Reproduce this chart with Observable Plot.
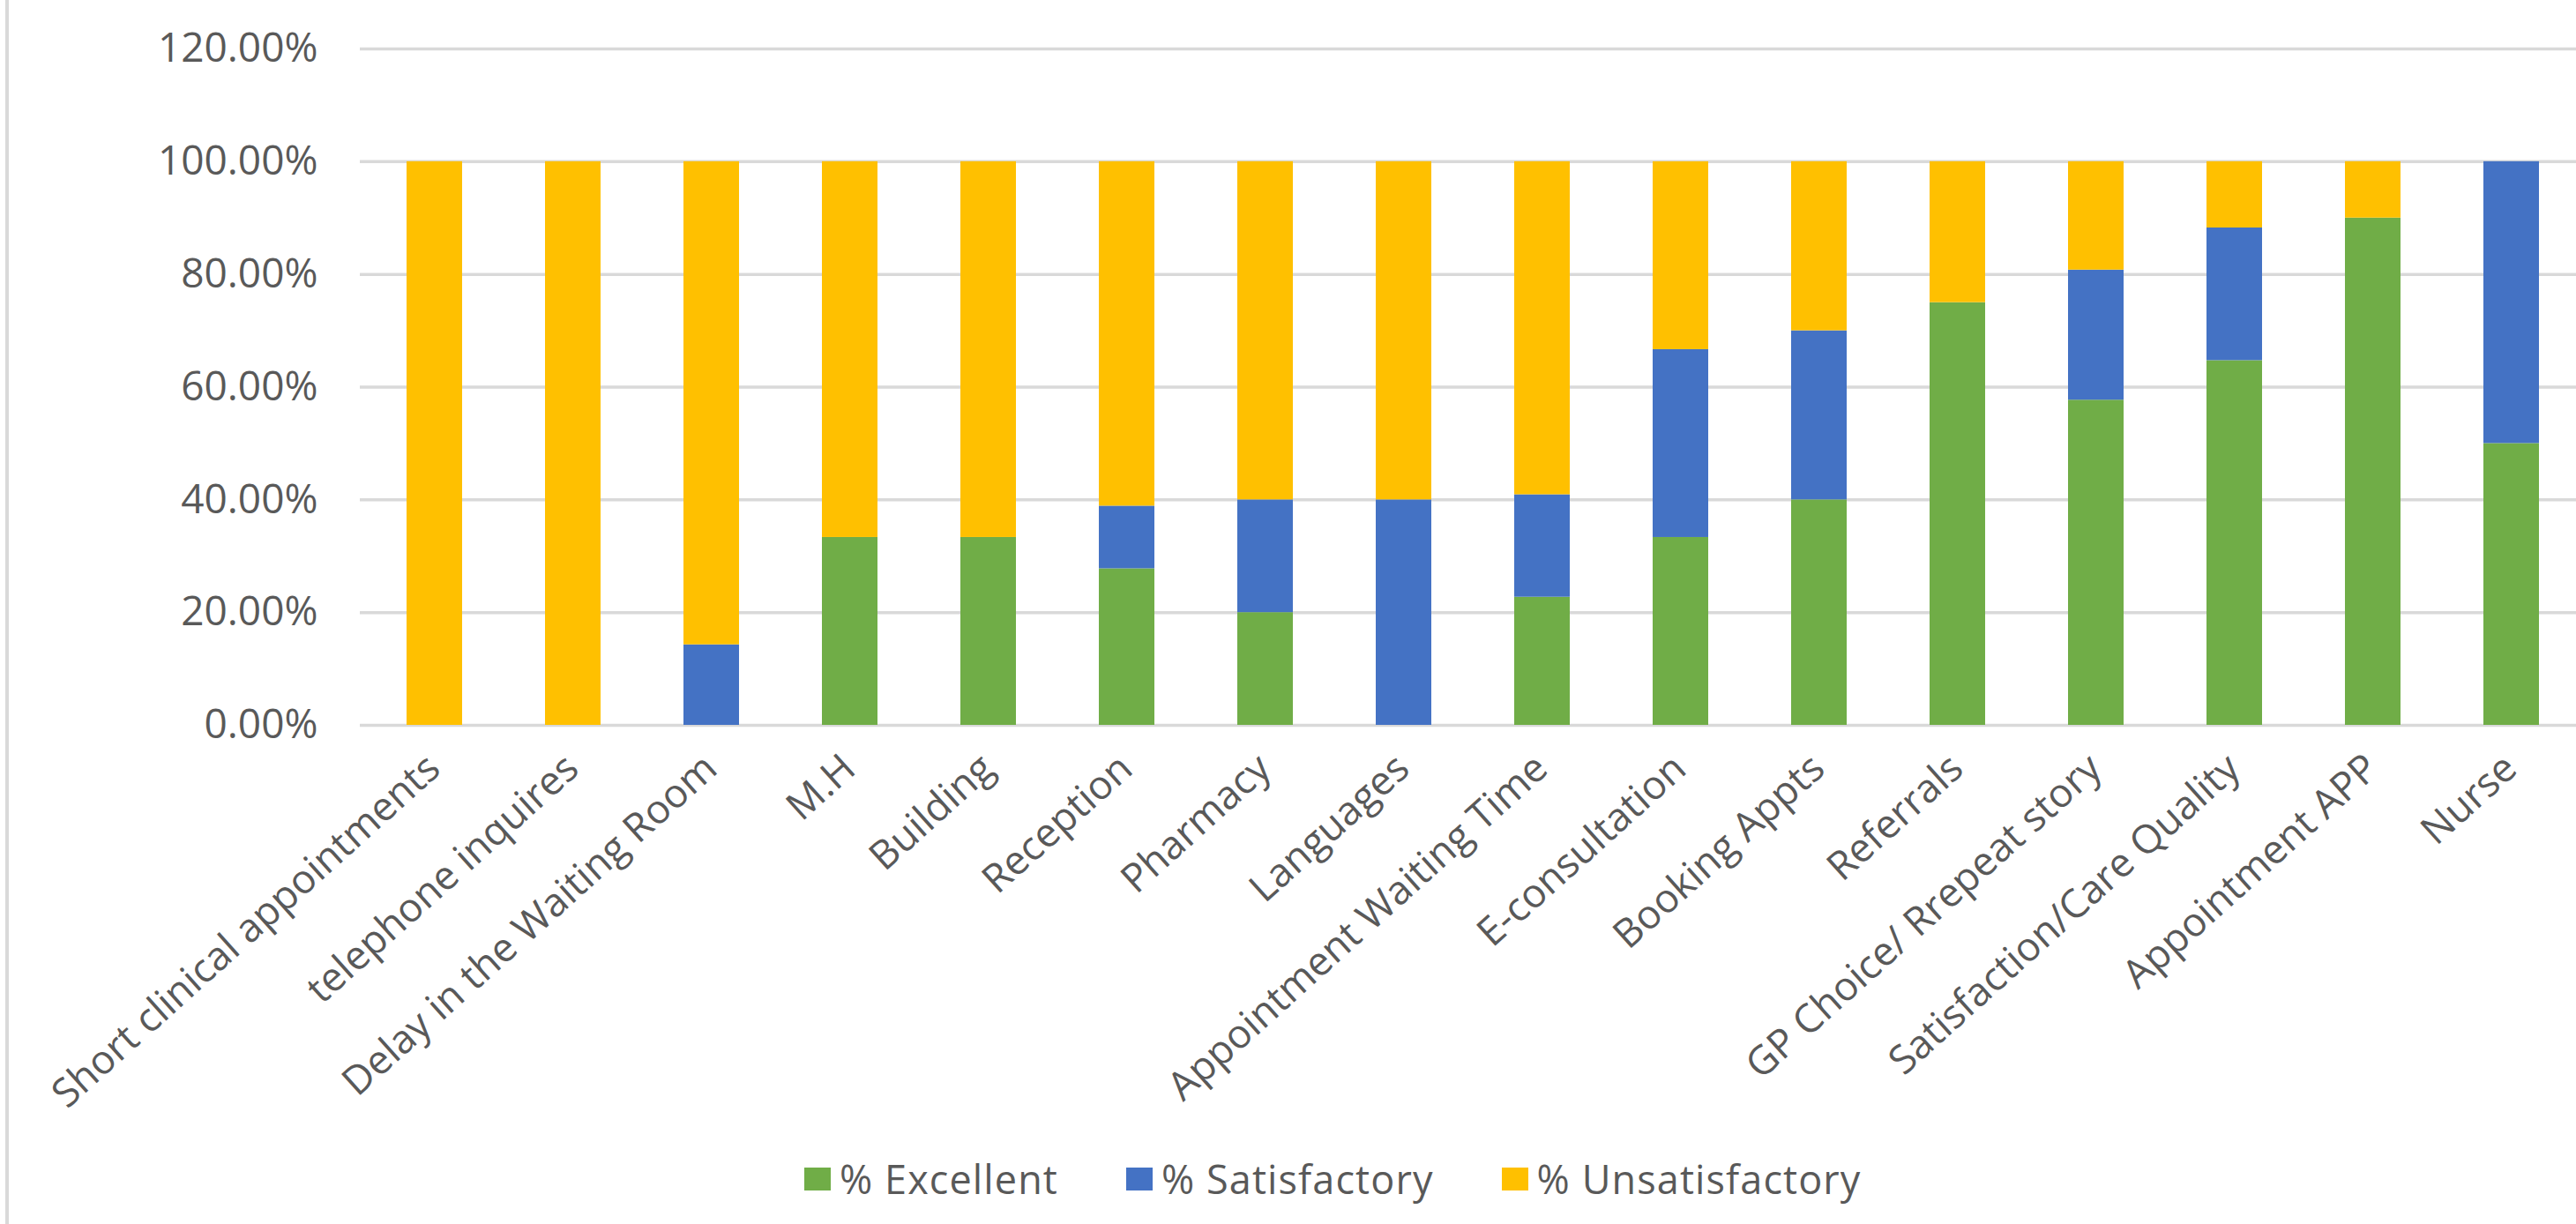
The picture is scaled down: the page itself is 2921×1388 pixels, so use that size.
<!DOCTYPE html>
<html><head><meta charset="utf-8">
<script src="https://cdn.jsdelivr.net/npm/d3@7"></script>
<script src="https://cdn.jsdelivr.net/npm/@observablehq/plot@0.6"></script>
<style>
html,body{margin:0;padding:0;background:#fff;}
#wrap{position:relative;width:2921px;height:1388px;overflow:hidden;background:#fff;}
#border{position:absolute;left:6px;top:0;width:4px;height:1388px;background:#d9d9d9;}
#chart{position:absolute;left:0;top:0;}
#legend{position:absolute;left:912px;top:1306px;}
#legend .lg-swatch{margin-right:77px !important;}
#legend .lg-swatch > svg{margin-right:10px !important;}
#legend .lg-swatches{margin:0 !important;letter-spacing:1.1px;}
</style></head><body>
<div id="wrap"><div id="border"></div><div id="chart"></div><div id="legend"></div></div>
<script>
const categories = ["Short clinical appointments","telephone inquires","Delay in the Waiting Room","M.H","Building","Reception","Pharmacy","Languages","Appointment Waiting Time","E-consultation","Booking Appts","Referrals","GP Choice/ Rrepeat story","Satisfaction/Care Quality","Appointment APP","Nurse"];
const series = ["% Excellent","% Satisfactory","% Unsatisfactory"];
const excellent      = [0, 0, 0,     33.33, 33.33, 27.78, 20, 0,  22.73, 33.33, 40, 75, 57.69, 64.71, 90, 50];
const satisfactory   = [0, 0, 14.29, 0,     0,     11.11, 20, 40, 18.18, 33.33, 30, 0,  23.08, 23.53, 0,  50];
const unsatisfactory = [100, 100, 85.71, 66.67, 66.67, 61.11, 60, 60, 59.09, 33.33, 30, 25, 19.23, 11.76, 10, 0];
const colors = ["#70AD47","#4472C4","#FFC000"];
const yTicks = [0, 0.2, 0.4, 0.6, 0.8, 1.0, 1.2];

const seriesValues = [excellent, satisfactory, unsatisfactory];
const data = [];
categories.forEach((c, i) => {
  seriesValues.forEach((arr, j) => data.push({category: c, series: series[j], value: arr[i] / 100}));
});

const chart = Plot.plot({
  width: 2921,
  height: 1300,
  marginTop: 55,
  marginBottom: 478,
  marginLeft: 408,
  marginRight: -10,
  style: {fontFamily: "'Open Sans', sans-serif", fontSize: "44px", color: "#595959", background: "transparent"},
  x: {domain: categories, paddingInner: 0.6, paddingOuter: 0.3, label: null},
  y: {domain: [0, 1.2], ticks: yTicks, label: null},
  color: {domain: series, range: colors},
  marks: [
    Plot.ruleY(yTicks, {stroke: "#d9d9d9", strokeWidth: 3.5}),
    Plot.barY(data, {x: "category", y: "value", fill: "series", order: series}),
    Plot.axisY({ticks: yTicks, tickSize: 0, tickPadding: 48, tickFormat: d => (d * 100).toFixed(2) + "%", fontSize: 46, fill: "#595959", label: null}),
    Plot.axisX({tickSize: 0, tickRotate: -42, tickPadding: 42, dx: -1, fontSize: 45, fill: "#595959", label: null})
  ]
});
document.getElementById("chart").appendChild(chart);

const legend = Plot.legend({
  color: {domain: series, range: colors},
  legend: "swatches",
  swatchWidth: 30,
  swatchHeight: 26,
  className: "lg",
  style: {fontFamily: "'Open Sans', sans-serif", fontSize: "45px", color: "#595959"}
});
document.getElementById("legend").appendChild(legend);
</script>
</body></html>
